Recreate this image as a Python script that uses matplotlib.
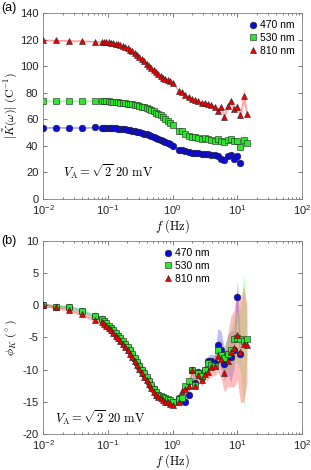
import matplotlib.pyplot as plt
import numpy as np

plt.rcParams['font.family'] = ['Liberation Sans', 'DejaVu Sans']
plt.rcParams['mathtext.fontset'] = 'cm'

# frequencies (Hz)
freq_lo = [0.01, 0.016, 0.025, 0.04, 0.063]
freq_mid = [0.080, 0.087, 0.094, 0.103, 0.112, 0.121, 0.132, 0.144, 0.156, 0.170,
            0.185, 0.201, 0.219, 0.238, 0.259, 0.282, 0.307, 0.334, 0.363, 0.395,
            0.430, 0.468, 0.509, 0.554, 0.603, 0.656, 0.714, 0.776, 0.845, 0.919, 1.0]
freq_hi = [1.26, 1.41, 1.58, 1.78, 2.0, 2.24, 2.51, 2.82, 3.16, 3.55, 3.98, 4.47,
           5.01, 5.62, 6.31, 7.08, 7.94, 8.91, 10.0, 11.2, 12.6, 14.1]

labels = ['470 nm', '530 nm', '810 nm']

# (a) magnitude |K(w)| (C^-1)
blue_mag = ([53.6, 53.7, 53.6, 53.5, 53.8] +
            [53.5, 53.5, 53.4, 53.4, 53.3, 53.2, 53.1, 52.9, 52.7, 52.5, 52.3, 52.0, 51.7,
             51.4, 51.0, 50.6, 50.2, 49.7, 49.2, 48.6, 48.0, 47.3, 46.6, 45.8, 45.0, 44.2,
             43.4, 42.6, 41.8, 41.0, 40.1] +
            [36.6, 37.0, 36.0, 35.3, 34.9, 34.5, 34.2, 33.8, 33.6, 34.0, 33.0, 32.8, 32.4,
             30.3, 29.6, 32.6, 33.2, 30.3, 32.0, 27.1])
green_mag = ([73.8, 73.8, 73.7, 73.7, 73.8] +
             [73.6, 73.5, 73.5, 73.4, 73.3, 73.2, 73.0, 72.8, 72.6, 72.4, 72.1, 71.8, 71.5,
              71.2, 70.8, 70.4, 70.0, 69.5, 69.0, 68.3, 67.6, 66.8, 66.0, 65.0, 64.0, 62.9,
              61.7, 60.4, 58.9, 57.3, 55.6] +
             [51.3, 51.0, 48.5, 47.5, 46.8, 46.5, 46.0, 45.3, 45.6, 44.8, 44.2, 43.4, 44.8,
              43.6, 42.6, 44.6, 45.4, 43.8, 43.4, 39.4, 44.0, 42.4])
red_mag = ([119.8, 119.4, 119.2, 119.0, 118.6] +
           [118.5, 118.4, 118.2, 118.0, 117.7, 117.4, 117.0, 116.5, 115.9, 115.2, 114.4,
            113.5, 112.4, 111.2, 109.9, 108.5, 107.0, 105.4, 103.7, 102.0, 100.3, 98.6,
            96.9, 95.3, 93.8, 92.5, 91.3, 90.3, 89.3, 88.5, 87.7] +
           [81.0, 80.5, 78.0, 77.0, 75.5, 74.5, 73.5, 72.5, 72.0, 71.5, 70.5, 69.5, 66.0,
            69.0, 62.0, 70.0, 73.5, 68.0, 69.5, 63.0, 77.5, 64.0])

blue_mag_err = [0.6] * 36 + [0.5, 0.5, 0.5, 0.5, 0.5, 0.6, 0.6, 0.6, 0.7, 0.7, 0.8, 0.8,
                             0.9, 1.0, 1.0, 1.1, 1.2, 1.3, 1.5, 1.5]
green_mag_err = [0.6] * 36 + [0.5, 0.5, 0.5, 0.5, 0.5, 0.6, 0.6, 0.6, 0.7, 0.7, 0.8, 0.8,
                              0.9, 1.0, 1.0, 1.1, 1.2, 1.3, 1.5, 3.5, 5.0, 2.0]
red_mag_err = [0.7] * 36 + [0.8, 0.8, 0.8, 0.8, 0.9, 0.9, 1.0, 1.0, 1.1, 1.2, 1.3, 1.5,
                            2.0, 2.5, 3.0, 2.5, 3.0, 2.5, 3.0, 3.5, 6.0, 3.5]

# (b) phase phi_K (deg)
blue_ph = ([0.1, -0.2, -0.2, -0.9, -1.7] +
           [-2.2, -2.5, -2.9, -3.3, -3.6, -4.0, -4.4, -4.8, -5.2, -5.7, -6.1, -6.6, -7.1,
            -7.7, -8.3, -8.9, -9.5, -10.1, -10.7, -11.3, -11.9, -12.5, -13.1, -13.6, -14.0,
            -14.2, -14.4, -14.6, -14.8, -15.0, -15.0] +
           [-14.5, -14.6, -15.1, -13.9, -10.1, -12.1, -10.3, -11.2, -10.0, -8.7, -8.6, -8.9,
            -6.1, -7.0, -9.2, -7.6, -8.0, -6.9, 1.3, -7.6])
green_ph = ([0.1, -0.2, -0.2, -0.9, -1.7] +
            [-2.1, -2.4, -2.8, -3.2, -3.5, -3.9, -4.3, -4.7, -5.1, -5.6, -6.0, -6.5, -7.0,
             -7.6, -8.2, -8.8, -9.4, -10.0, -10.6, -11.2, -11.8, -12.4, -13.0, -13.5, -13.9,
             -14.1, -14.2, -14.4, -14.6, -14.8, -15.0] +
            [-14.6, -14.4, -12.6, -11.8, -10.0, -12.4, -10.5, -11.0, -10.0, -9.0, -9.3, -9.4,
             -6.9, -7.8, -8.2, -7.6, -7.0, -5.2, -5.1, -5.3, -5.6, -5.3])
red_ph = ([0.1, -0.3, -0.7, -1.4, -2.3] +
          [-2.6, -2.9, -3.2, -3.6, -3.9, -4.3, -4.7, -5.1, -5.5, -6.0, -6.5, -7.0, -7.5,
           -8.1, -8.7, -9.3, -9.9, -10.5, -11.1, -11.7, -12.3, -12.9, -13.5, -14.0, -14.3,
           -14.5, -14.7, -15.0, -15.1, -15.3, -15.5] +
          [-15.0, -13.4, -13.0, -12.6, -10.1, -12.6, -10.9, -11.6, -10.7, -10.4, -9.6, -9.4,
           -7.9, -8.4, -10.5, -8.6, -7.2, -6.7, -4.6, -7.2, -6.0, -6.1])

blue_ph_err = [0.25] * 36 + [0.4, 0.4, 0.5, 0.5, 0.6, 0.6, 0.7, 0.7, 0.8, 0.9, 1.0, 1.2,
                             2.5, 3.0, 2.5, 3.0, 4.0, 3.0, 2.5, 2.0]
green_ph_err = [0.25] * 36 + [0.4, 0.4, 0.5, 0.5, 0.6, 0.6, 0.7, 0.7, 0.8, 0.9, 1.0, 1.2,
                              1.5, 1.8, 2.0, 2.5, 3.0, 3.5, 4.0, 5.0, 10.5, 3.0]
red_ph_err = [0.3] * 36 + [0.5, 0.6, 0.6, 0.7, 0.8, 0.8, 0.9, 1.0, 1.1, 1.2, 1.4, 1.6,
                           2.5, 3.0, 3.0, 4.0, 5.5, 6.0, 7.0, 8.0, 9.0, 6.0]

freq = np.array(freq_lo + freq_mid + freq_hi)

series_style = [
    dict(marker='o', color='#0a0adc', band='#7070ff', ms=4.8),
    dict(marker='s', color='#2ee62e', band='#70ff70', ms=4.2),
    dict(marker='^', color='#ee0000', band='#ff7070', ms=4.8),
]

fig = plt.figure(figsize=(3.11, 4.70), dpi=100)
ax_a = fig.add_axes([0.139, 0.577, 0.832, 0.395])
ax_b = fig.add_axes([0.139, 0.077, 0.832, 0.410])


def draw(ax, ys, errs):
    for y, e, st, lab in zip(ys, errs, series_style, labels):
        y = np.array(y)
        e = np.array(e)
        f = freq[:len(y)]
        ax.fill_between(f, y - e, y + e, color=st['band'], alpha=0.45, lw=0, zorder=1)
        ax.plot(f, y, color=st['band'], lw=0.6, alpha=0.6, zorder=1)
        ax.plot(f, y, ls='none', marker=st['marker'], ms=st['ms'],
                mfc=st['color'], mec='#222222', mew=0.4, label=lab, zorder=3)
    ax.set_xscale('log')
    ax.set_xlim(1e-2, 1e2)
    ax.tick_params(which='both', direction='in', top=True, right=True,
                   colors='#444444', labelcolor='#222222', labelsize=8, width=0.5)
    ax.tick_params(which='major', length=3)
    ax.tick_params(which='minor', length=1.6)
    for s in ax.spines.values():
        s.set_color('#808080')
        s.set_linewidth(0.6)
    ax.set_xlabel(r'$f\ (\mathrm{Hz})$', fontsize=9, labelpad=0)
    leg = ax.legend(loc='upper right', frameon=False, fontsize=7.5, handletextpad=0.1,
                    labelspacing=0.25, borderaxespad=0.3, handlelength=1.2)
    return leg


draw(ax_a, [blue_mag, green_mag, red_mag], [blue_mag_err, green_mag_err, red_mag_err])
ax_a.set_ylim(0, 140)
ax_a.set_yticks(range(0, 141, 20))
ax_a.set_ylabel(r'$|\tilde{K}(\omega)|\ (\mathrm{C}^{-1})$', fontsize=8.5)
ax_a.yaxis.set_label_coords(-0.095, 0.5)
ax_a.text(0.075, 0.147, r'$V_\mathrm{A} = \sqrt{2}\ 20\ \mathrm{mV}$', transform=ax_a.transAxes,
          fontsize=9, va='center')
fig.text(0.003, 0.983, '(a)', fontsize=9, va='center')

leg = draw(ax_b, [blue_ph, green_ph, red_ph], [blue_ph_err, green_ph_err, red_ph_err])
leg.remove()
ax_b.legend(loc='upper center', bbox_to_anchor=(0.55, 1.0), frameon=False, fontsize=7.5,
            handletextpad=0.1, labelspacing=0.25, borderaxespad=0.3, handlelength=1.2)
ax_b.set_ylim(-20, 10)
ax_b.set_yticks(range(-20, 11, 5))
ax_b.set_yticklabels([str(v) for v in range(-20, 11, 5)])
ax_b.set_ylabel(r'$\phi_K\ (^\circ)$', fontsize=8.5)
ax_b.yaxis.set_label_coords(-0.095, 0.5)
ax_b.text(0.045, 0.085, r'$V_\mathrm{A} = \sqrt{2}\ 20\ \mathrm{mV}$', transform=ax_b.transAxes,
          fontsize=9, va='center')
fig.text(0.003, 0.487, '(b)', fontsize=9, va='center')

fig.savefig('out.png', dpi=100, facecolor='white')
